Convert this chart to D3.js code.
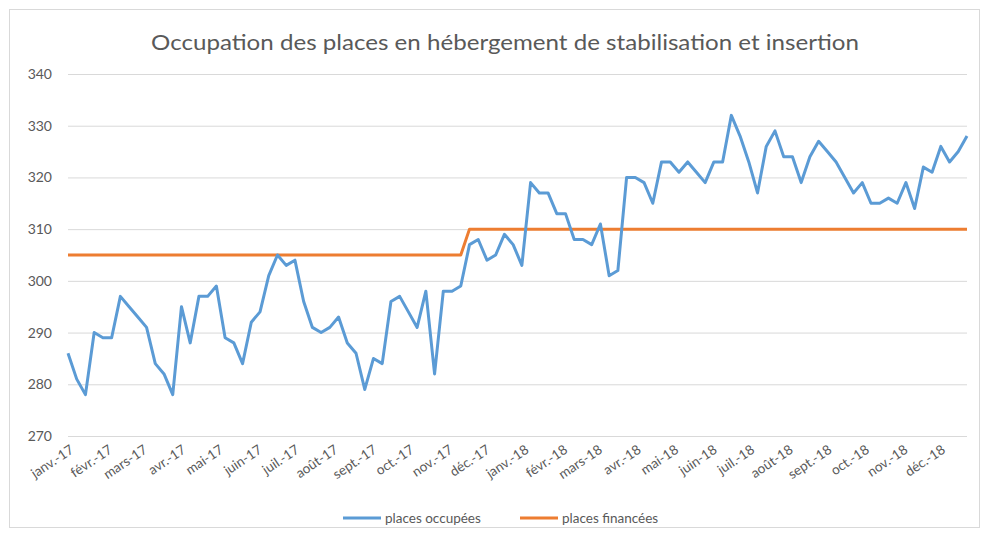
<!DOCTYPE html>
<html>
<head>
<meta charset="utf-8">
<script src="https://cdn.jsdelivr.net/npm/d3@7"></script>
<style>
  body { margin: 0; background: #fff; }
  text { font-family: Lato, "Open Sans", sans-serif; fill: #595959; }
</style>
</head>
<body>
<div id="vis-container"></div>
<script>
// weekly data, first week starting 1 Jan 2017
let startDate = "2017-01-01";

let occupees = [286,281,278,290,289,289,297,295,293,291,
  284,282,278,295,288,297,297,299,289,288,
  284,292,294,301,305,303,304,296,291,290,
  291,293,288,286,279,285,284,296,297,294,
  291,298,282,298,298,299,307,308,304,305,
  309,307,303,319,317,317,313,313,308,308,
  307,311,301,302,320,320,319,315,323,323,
  321,323,321,319,323,323,332,328,323,317,
  326,329,324,324,319,324,327,325,323,320,
  317,319,315,315,316,315,319,314,322,321,
  326,323,325,328];

let financees = [305,305,305,305,305,305,305,305,305,305,
  305,305,305,305,305,305,305,305,305,305,
  305,305,305,305,305,305,305,305,305,305,
  305,305,305,305,305,305,305,305,305,305,
  305,305,305,305,305,305,310,310,310,310,
  310,310,310,310,310,310,310,310,310,310,
  310,310,310,310,310,310,310,310,310,310,
  310,310,310,310,310,310,310,310,310,310,
  310,310,310,310,310,310,310,310,310,310,
  310,310,310,310,310,310,310,310,310,310,
  310,310,310,310];

let monthLabels = ["janv.","févr.","mars","avr.","mai","juin","juil.","août","sept.","oct.","nov.","déc."];
let yTicks = [270,280,290,300,310,320,330,340];

let W = 989, H = 537;
let margin = {top:74, right:22, bottom:101, left:68};
let width = W - margin.left - margin.right;
let height = H - margin.top - margin.bottom;

let svg = d3.select("#vis-container")
  .append("svg")
  .attr("width", W)
  .attr("height", H);

// chart frame
svg.append("rect")
  .attr("x", 9.5).attr("y", 9.5)
  .attr("width", W - 19).attr("height", H - 19)
  .attr("fill", "none")
  .attr("stroke", "#d9d9d9");

let g = svg.append("g")
  .attr("transform", `translate(${margin.left}, ${margin.top})`);

let parse = d3.timeParse("%Y-%m-%d");
let t0 = parse(startDate);
let dates = occupees.map((d, i) => d3.timeWeek.offset(t0, i));

let x = d3.scaleTime()
  .domain([dates[0], dates[dates.length - 1]])
  .range([0, width]);

let y = d3.scaleLinear()
  .domain([270, 340])
  .range([height, 0]);

// gridlines + left labels
let leftAxis = d3.axisLeft(y)
  .tickValues(yTicks)
  .tickSize(-width)
  .tickPadding(16);

g.append("g")
  .attr("class", "left axis")
  .call(leftAxis)
  .call(a => a.select(".domain").remove())
  .call(a => a.selectAll("line").attr("stroke", "#d9d9d9").attr("stroke-width", 1))
  .call(a => a.selectAll("text").attr("font-size", "14px").attr("fill", "#595959"));

// month labels
let months = d3.timeMonth.range(dates[0], d3.timeDay.offset(dates[dates.length - 1], 1));
let gx = g.append("g")
  .attr("class", "bottom axis")
  .attr("transform", `translate(0,${height})`);

gx.selectAll("text")
  .data(months)
  .enter()
  .append("text")
  .attr("x", d => x(d) + 4)
  .attr("y", 12)
  .attr("dy", "0.35em")
  .attr("text-anchor", "end")
  .attr("font-size", "13.5px")
  .attr("transform", d => `rotate(-34, ${x(d) + 4}, 12)`)
  .text(d => monthLabels[d.getMonth()] + "-" + d3.timeFormat("%y")(d));

let line = d3.line()
  .x((d, i) => x(dates[i]))
  .y(d => y(d));

g.append("path")
  .datum(financees)
  .attr("fill", "none")
  .attr("stroke", "#ed7d31")
  .attr("stroke-width", 3)
  .attr("stroke-linejoin", "round")
  .attr("d", line);

g.append("path")
  .datum(occupees)
  .attr("fill", "none")
  .attr("stroke", "#5b9bd5")
  .attr("stroke-width", 3)
  .attr("stroke-linejoin", "round")
  .attr("d", line);

// title
svg.append("text")
  .attr("x", 505)
  .attr("y", 50)
  .attr("text-anchor", "middle")
  .attr("font-size", "22px")
  .attr("textLength", 708)
  .attr("lengthAdjust", "spacingAndGlyphs")
  .text("Occupation des places en hébergement de stabilisation et insertion");

// legend
let legend = [
  {name: "places occupées", color: "#5b9bd5", x: 343},
  {name: "places financées", color: "#ed7d31", x: 520}
];
let lg = svg.append("g");
legend.forEach(d => {
  lg.append("line")
    .attr("x1", d.x).attr("x2", d.x + 38)
    .attr("y1", 518).attr("y2", 518)
    .attr("stroke", d.color)
    .attr("stroke-width", 3);
  lg.append("text")
    .attr("x", d.x + 42)
    .attr("y", 518)
    .attr("dy", "0.35em")
    .attr("font-size", "13.5px")
    .text(d.name);
});
</script>
</body>
</html>
